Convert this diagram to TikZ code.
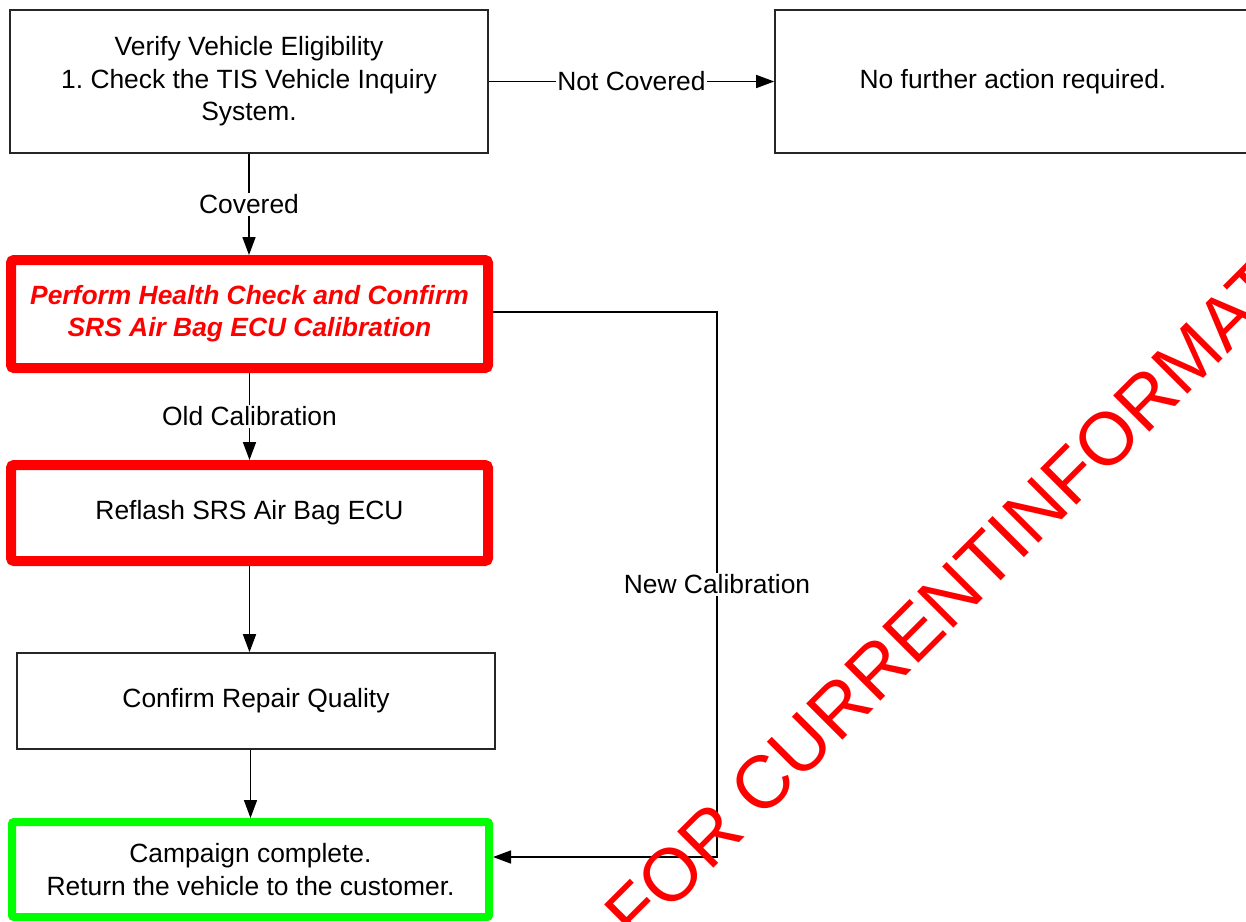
\documentclass[tikz,border=0pt]{standalone}
\usepackage{fontspec}
\setmainfont{Liberation Sans}
\usetikzlibrary{arrows.meta}
\frenchspacing
\begin{document}
\begin{tikzpicture}[x=1pt,y=-1pt,
  box/.style={draw=black!85, line width=1.6pt, minimum width=478pt, align=center, inner sep=0pt, font=\fontsize{26.4}{32.5}\selectfont\frenchspacing},
  redbox/.style={box, draw=red, line width=10pt, rounded corners=3pt},
  greenbox/.style={box, draw=green, line width=8pt, rounded corners=2pt},
  conn/.style={line width=1.6pt},
  arr/.style={conn, -{Triangle[length=18pt,width=13pt]}},
  lbl/.style={fill=white, font=\fontsize{26.4}{32}\selectfont, inner sep=2pt}]
\useasboundingbox (0,0) rectangle (1246,921);
\clip (0,0) rectangle (1246,921);

\node[box, minimum width=478pt, minimum height=143pt] (verify) at (249,81.5) {Verify Vehicle Eligibility\\1. Check the TIS Vehicle Inquiry\\System.};
\node[box, minimum width=476pt, minimum height=143pt] (nofurther) at (1013,81.5) {No further action required.};
\node[redbox, minimum width=477pt, minimum height=108pt, text=red, font=\fontsize{26.4}{32}\selectfont\bfseries\itshape] (health) at (249.5,314) {Perform Health Check and Confirm\\SRS Air Bag ECU Calibration};
\node[redbox, minimum width=477pt, minimum height=96pt] (reflash) at (249.5,513) {Reflash SRS Air Bag ECU};
\node[box, minimum height=96pt] (quality) at (256,701) {Confirm Repair Quality};
\node[greenbox, minimum width=477pt, minimum height=95pt] (done) at (250.5,869.5) {Campaign complete.\\Return the vehicle to the customer.};

\draw[arr] (verify.east) -- node[lbl, inner xsep=1pt]{Not Covered} (nofurther.west);
\draw[arr] (verify.south) -- node[lbl]{Covered} (verify.south |- health.north);
\draw[arr] (health.south) -- node[lbl]{Old Calibration} (health.south |- reflash.north);
\draw[arr] (reflash.south) -- (reflash.south |- quality.north);
\draw[arr] (done.north |- quality.south) -- (done.north);
\coordinate (nc1) at (717,312);
\coordinate (nc2) at (717,857);
\draw[arr] (health.east |- nc1) -- (nc1) -- node[lbl]{New Calibration} (nc2) -- (done.east |- nc2);

\node[anchor=base west, rotate=45, text=red, font=\fontsize{74.5}{80}\selectfont, inner sep=0pt] (wm) at (636,946) {FOR CURRENTINFORMATION};
\end{tikzpicture}
\end{document}
